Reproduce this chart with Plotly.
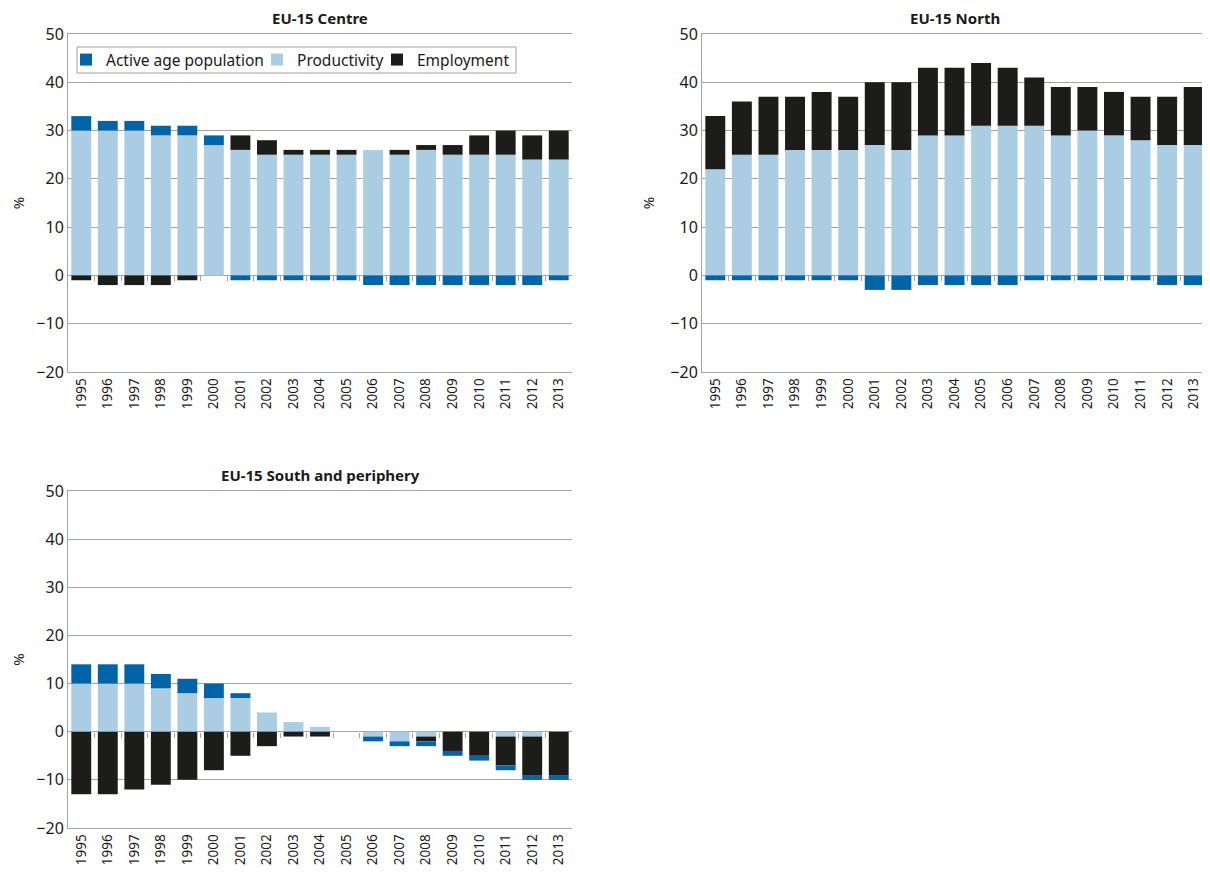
import plotly.graph_objects as go

years = list(range(1995, 2014))
year_labels = [str(y) for y in years]

# EU-15 Centre
centre_active = [3, 2, 2, 2, 2, 2, -1, -1, -1, -1, -1, -2, -2, -2, -2, -2, -2, -2, -1]
centre_prod = [30, 30, 30, 29, 29, 27, 26, 25, 25, 25, 25, 26, 25, 26, 25, 25, 25, 24, 24]
centre_emp = [-1, -2, -2, -2, -1, 0, 3, 3, 1, 1, 1, 0, 1, 1, 2, 4, 5, 5, 6]

# EU-15 North
north_active = [-1, -1, -1, -1, -1, -1, -3, -3, -2, -2, -2, -2, -1, -1, -1, -1, -1, -2, -2]
north_prod = [22, 25, 25, 26, 26, 26, 27, 26, 29, 29, 31, 31, 31, 29, 30, 29, 28, 27, 27]
north_emp = [11, 11, 12, 11, 12, 11, 13, 14, 14, 14, 13, 12, 10, 10, 9, 9, 9, 10, 12]

# EU-15 South and periphery
south_active = [4, 4, 4, 3, 3, 3, 1, 0, 0, 0, 0, -1, -1, -1, -1, -1, -1, -1, -1]
south_prod = [10, 10, 10, 9, 8, 7, 7, 4, 2, 1, 0, -1, -2, -1, 0, 0, -1, -1, 0]
south_emp = [-13, -13, -12, -11, -10, -8, -5, -3, -1, -1, 0, 0, 0, -1, -4, -5, -6, -8, -9]

titles = ["EU-15 Centre", "EU-15 North", "EU-15 South and periphery"]
series_names = ["Active age population", "Productivity", "Employment"]
y_ticks = [-20, -10, 0, 10, 20, 30, 40, 50]

C_ACTIVE = "#0064a7"
C_PROD = "#abcde3"
C_EMP = "#1c1c1b"
GRID = "#a3a3a3"
FONT = "Noto Sans"
TXT = "#1a1a1a"

OFF = 8  # page body margin
W, H = 1210 - OFF, 873 - OFF
panels = [
    # (x0px, x1px, ytop px, ybottom px) in screen pixels
    (68, 572, 34, 372),
    (702, 1207, 34, 372),
    (68, 572, 491, 828),
]
data = [
    (centre_active, centre_prod, centre_emp),
    (north_active, north_prod, north_emp),
    (south_active, south_prod, south_emp),
]


def px(v):
    return (v - OFF) / W


def py(v):
    return 1 - (v - OFF) / H


fig = go.Figure()
leg_common = dict(orientation="h", yanchor="middle", xanchor="left",
                  bgcolor="rgba(0,0,0,0)", borderwidth=0, itemwidth=30,
                  font=dict(size=15.5, family=FONT, color=TXT))
layout = dict(
    width=W, height=H, margin=dict(l=0, r=0, t=0, b=0, autoexpand=False),
    paper_bgcolor="white", plot_bgcolor="white",
    barmode="relative", bargap=0.25,
    font=dict(family=FONT, size=15, color=TXT),
    showlegend=True,
    legend=dict(leg_common, x=px(66), y=py(60)),
    legend2=dict(leg_common, x=px(257), y=py(60)),
    legend3=dict(leg_common, x=px(377), y=py(60)),
    shapes=[dict(type="rect", xref="paper", yref="paper", x0=px(77), x1=px(516),
                 y0=py(73), y1=py(47), line=dict(color="#a0a0a0", width=1),
                 fillcolor="white", layer="above")],
)
annotations = []
ymin, ymax = -20, 50
for i, ((x0, x1, yt, yb), (act, prod, emp)) in enumerate(zip(panels, data)):
    n = i + 1
    xa = "x" if n == 1 else f"x{n}"
    ya = "y" if n == 1 else f"y{n}"
    dx = [px(x0), px(x1)]
    dy = [py(yb), py(yt)]
    show = (n == 1)
    fig.add_trace(go.Bar(x=years, y=prod, name=series_names[1], marker_color=C_PROD,
                         xaxis=xa, yaxis=ya, showlegend=show, legend="legend2",
                         marker_line_width=0))
    fig.add_trace(go.Bar(x=years, y=emp, name=series_names[2], marker_color=C_EMP,
                         xaxis=xa, yaxis=ya, showlegend=show, legend="legend3",
                         marker_line_width=0))
    fig.add_trace(go.Bar(x=years, y=act, name=series_names[0], marker_color=C_ACTIVE,
                         xaxis=xa, yaxis=ya, showlegend=show, legend="legend",
                         marker_line_width=0))
    xr = [years[0] - 0.5, years[-1] + 0.5]
    layout["xaxis" if n == 1 else f"xaxis{n}"] = dict(
        domain=dx, anchor=ya, range=xr, tickvals=years, ticktext=year_labels,
        tickangle=-90, ticks="", showline=True, mirror=True, linecolor=GRID,
        linewidth=1, showgrid=False, zeroline=False, tickfont=dict(size=13.5),
        fixedrange=True, automargin=False,
    )
    layout["yaxis" if n == 1 else f"yaxis{n}"] = dict(
        domain=dy, anchor=xa, range=[ymin, ymax], tickvals=y_ticks,
        showline=True, linecolor=GRID, linewidth=1, gridcolor=GRID, gridwidth=1,
        zeroline=True, zerolinecolor=GRID, zerolinewidth=1, ticks="",
        tickfont=dict(size=16), title=dict(text="%", font=dict(size=15), standoff=12),
        fixedrange=True, automargin=False,
    )
    # overlay axis with category-boundary tick marks on the zero line
    zero_frac = (0 - ymin) / (ymax - ymin)
    zpos = dy[0] + zero_frac * (dy[1] - dy[0])
    bounds = [y + 0.5 for y in years[:-1]]
    layout[f"xaxis{n + 3}"] = dict(
        domain=dx, anchor="free", position=zpos, overlaying=xa, range=xr,
        tickvals=bounds, showticklabels=False, ticks="outside", ticklen=5,
        tickcolor=GRID, tickwidth=1, showline=False, showgrid=False, zeroline=False,
        fixedrange=True, automargin=False,
    )
    annotations.append(dict(text=f"<b>{titles[i]}</b>", x=(dx[0] + dx[1]) / 2,
                            y=py(yt - 16), xref="paper", yref="paper",
                            xanchor="center", yanchor="middle", showarrow=False,
                            font=dict(size=15, family=FONT, color=TXT)))

# invisible traces to register overlay axes
for n in range(1, 4):
    fig.add_trace(go.Scatter(x=[years[0]], y=[0], xaxis=f"x{n + 3}",
                             yaxis="y" if n == 1 else f"y{n}", mode="markers",
                             marker=dict(opacity=0), showlegend=False, hoverinfo="skip"))

layout["annotations"] = annotations
fig.update_layout(**layout)
fig.write_html("out.html")
